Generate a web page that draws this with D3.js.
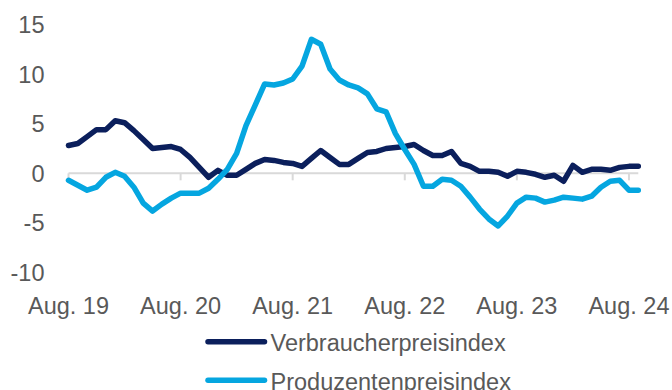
<!DOCTYPE html>
<html>
<head>
<meta charset="utf-8">
<script src="https://cdn.jsdelivr.net/npm/d3@7"></script>
<style>
  html, body { margin: 0; padding: 0; background: #fff; }
  svg { display: block; font-family: "Liberation Sans", Arial, sans-serif; }
</style>
</head>
<body>
<svg id="chart" width="672" height="390"></svg>
<script>
// Monthly year-on-year change in %, Aug 2019 – Sep 2024
const months = d3.timeMonth.range(new Date(2019, 7, 1), new Date(2024, 9, 1));

const verbraucher = [
  2.8, 3.0, 3.7, 4.4, 4.4, 5.3, 5.1, 4.3, 3.4, 2.5, 2.6, 2.7,
  2.4, 1.6, 0.6, -0.4, 0.3, -0.2, -0.2, 0.4, 1.0, 1.4, 1.3, 1.1,
  1.0, 0.7, 1.5, 2.3, 1.6, 0.9, 0.9, 1.5, 2.1, 2.2, 2.5, 2.6,
  2.7, 2.9, 2.3, 1.8, 1.8, 2.2, 1.0, 0.7, 0.2, 0.2, 0.1, -0.3,
  0.2, 0.1, -0.1, -0.4, -0.2, -0.8, 0.8, 0.1, 0.4, 0.4, 0.3, 0.6,
  0.7, 0.7
];

const produzenten = [
  -0.7, -1.2, -1.7, -1.4, -0.4, 0.1, -0.3, -1.4, -3.0, -3.8, -3.1, -2.5,
  -2.0, -2.0, -2.0, -1.5, -0.6, 0.4, 2.0, 4.8, 6.9, 9.0, 8.9, 9.1,
  9.5, 10.8, 13.5, 13.0, 10.5, 9.4, 8.9, 8.6, 8.0, 6.5, 6.2, 4.0,
  2.4, 0.9, -1.3, -1.3, -0.6, -0.7, -1.3, -2.4, -3.6, -4.6, -5.3, -4.3,
  -3.0, -2.4, -2.5, -2.9, -2.7, -2.4, -2.5, -2.6, -2.3, -1.4, -0.8, -0.7,
  -1.7, -1.7
];

const yTicks = [-10, -5, 0, 5, 10, 15];
const xTickLabels = ["Aug. 19", "Aug. 20", "Aug. 21", "Aug. 22", "Aug. 23", "Aug. 24"];
const seriesNames = ["Verbraucherpreisindex", "Produzentenpreisindex"];
const colors = ["#0b1f5c", "#05a6e0"];

const svg = d3.select("#chart");
const textColor = "#595959";
const fontSize = 23.5;

const x = d3.scaleLinear().domain([0, months.length - 1]).range([68.5, 638.3]);
const y = d3.scaleLinear().domain([-10, 15]).range([272.6, 24.4]);

// y axis labels (no axis line)
svg.append("g").selectAll("text")
  .data(yTicks).join("text")
  .attr("x", 44.5)
  .attr("y", d => y(d))
  .attr("dy", "0.36em")
  .attr("text-anchor", "end")
  .attr("fill", textColor)
  .attr("font-size", fontSize)
  .text(d => d);

// zero line acting as the category axis
svg.append("line")
  .attr("x1", x(0)).attr("x2", x(months.length - 1))
  .attr("y1", y(0)).attr("y2", y(0))
  .attr("stroke", "#d9d9d9").attr("stroke-width", 2);

const augIdx = months.map((m, i) => i).filter(i => months[i].getMonth() === 7);

svg.append("g").selectAll("line")
  .data(augIdx).join("line")
  .attr("x1", d => x(d)).attr("x2", d => x(d))
  .attr("y1", y(0)).attr("y2", y(0) + 7)
  .attr("stroke", "#d9d9d9").attr("stroke-width", 2);

svg.append("g").selectAll("text")
  .data(augIdx).join("text")
  .attr("x", d => x(d))
  .attr("y", 313.5)
  .attr("text-anchor", "middle")
  .attr("fill", textColor)
  .attr("font-size", fontSize)
  .text((d, i) => xTickLabels[i]);

// series lines
const line = d3.line().x((d, i) => x(i)).y(d => y(d));
[verbraucher, produzenten].forEach((s, k) => {
  svg.append("path")
    .datum(s)
    .attr("d", line)
    .attr("fill", "none")
    .attr("stroke", colors[k])
    .attr("stroke-width", 5.5)
    .attr("stroke-linejoin", "round")
    .attr("stroke-linecap", "round");
});

// legend
const legend = svg.append("g").selectAll("g")
  .data(seriesNames).join("g")
  .attr("transform", (d, i) => `translate(0, ${341.7 + i * 38.5})`);
legend.append("line")
  .attr("x1", 208).attr("x2", 264.5)
  .attr("stroke", (d, i) => colors[i])
  .attr("stroke-width", 5.5)
  .attr("stroke-linecap", "round");
legend.append("text")
  .attr("x", 270.5)
  .attr("y", 9.5)
  .attr("fill", textColor)
  .attr("font-size", fontSize)
  .text(d => d);
</script>
</body>
</html>
